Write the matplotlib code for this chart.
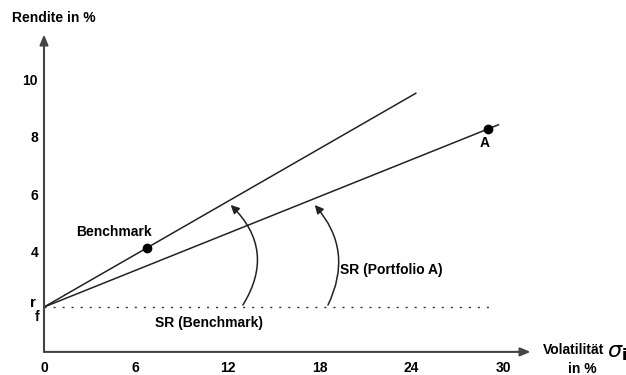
import matplotlib.pyplot as plt
from matplotlib.patches import FancyArrowPatch

plt.rcParams['font.family'] = ['Liberation Sans', 'DejaVu Sans']

# data
rf = 2.12
bench = (6.7, 4.17)
port_a = (29.0, 8.31)
bench_line_end = 24.3
a_line_end = 29.7
x_ticks = [0, 6, 12, 18, 24, 30]
y_ticks = [4, 6, 8, 10]
x_axis_y = 0.56

fig = plt.figure(figsize=(6.26, 3.75), dpi=100)
ax = fig.add_axes([0, 0, 1, 1])
ax.set_xlim(-44 / 15.3, (626 - 44) / 15.3)
ax.set_ylim(-7 / 28.75, 368 / 28.75)
ax.axis('off')

#axes with arrows
ax.annotate('', xy=(0, 11.6), xytext=(0, x_axis_y),
            arrowprops=dict(arrowstyle='-|>,head_length=0.6,head_width=0.25', color='#444444', lw=1.5, shrinkA=0, shrinkB=0))
ax.annotate('', xy=(31.8, x_axis_y), xytext=(0, x_axis_y),
            arrowprops=dict(arrowstyle='-|>,head_length=0.6,head_width=0.25', color='#444444', lw=1.5, shrinkA=0, shrinkB=0))

#capital market lines
s_b = (bench[1] - rf) / bench[0]
s_a = (port_a[1] - rf) / port_a[0]
ax.plot([0, bench_line_end], [rf, rf + s_b * bench_line_end], color='#222222', lw=1.1)
ax.plot([0, a_line_end], [rf, rf + s_a * a_line_end], color='#222222', lw=1.1)
ax.plot([0, 29.35], [rf, rf], color='#333333', lw=1, linestyle=(0, (1.5, 5)))

ax.plot(*bench, 'o', color='black', ms=6)
ax.plot(*port_a, 'o', color='black', ms=6)

#curved arrows
for p0, p1, rad in [((13.0, 2.19), (12.2, 5.67), 0.4), ((18.56, 2.19), (17.7, 5.67), 0.33)]:
    arr = FancyArrowPatch(p0, p1, connectionstyle='arc3,rad=%s' % rad,
                          arrowstyle='-|>,head_length=5,head_width=2.5', color='#222222', lw=1.1,
                          shrinkA=0, shrinkB=0)
    ax.add_patch(arr)

fs = 10
for x in x_ticks:
    ax.text(x, 0, str(x), ha='center', va='center', fontsize=fs, fontweight='bold')
for y in y_ticks:
    ax.text(-0.39, y, str(y), ha='right', va='center', fontsize=fs, fontweight='bold')

ax.text(-0.75, rf + 0.15, 'r', ha='center', va='center', fontsize=fs + 1, fontweight='bold')
ax.text(-0.45, rf - 0.35, 'f', ha='center', va='center', fontsize=fs, fontweight='bold')

ax.text(-2.09, 12.17, 'Rendite in %', ha='left', va='center', fontsize=fs, fontweight='bold')
ax.text(32.6, 0.63, 'Volatilität', ha='left', va='center', fontsize=fs, fontweight='bold')
ax.text(36.8, 0.92, r'$\sigma_\mathbf{i}$', ha='left', va='top', fontsize=16)
ax.text(35.2, -0.03, 'in %', ha='center', va='center', fontsize=fs, fontweight='bold')

ax.text(bench[0] - 4.6, bench[1] + 0.56, 'Benchmark', ha='left', va='center', fontsize=fs, fontweight='bold')
ax.text(port_a[0] - 0.2, port_a[1] - 0.48, 'A', ha='center', va='center', fontsize=fs, fontweight='bold')
ax.text(10.8, 1.57, 'SR (Benchmark)', ha='center', va='center', fontsize=fs, fontweight='bold')
ax.text(19.35, 3.41, 'SR (Portfolio A)', ha='left', va='center', fontsize=fs, fontweight='bold')

fig.savefig('out.png', dpi=100)
